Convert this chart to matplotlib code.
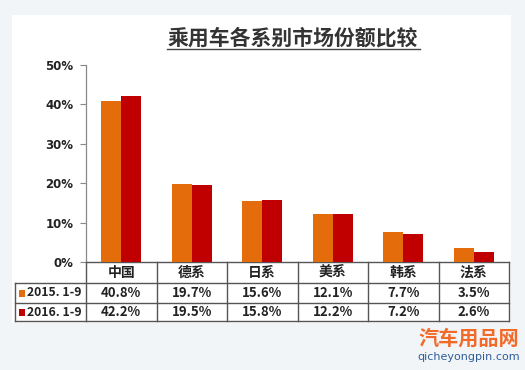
import matplotlib
matplotlib.use("Agg")
import matplotlib.pyplot as plt
from matplotlib import transforms
from matplotlib.patches import Rectangle
from matplotlib.lines import Line2D

plt.rcParams['font.family'] = ['Noto Sans CJK SC', 'DejaVu Sans']

title = "乘用车各系别市场份额比较"
categories = ["中国", "德系", "日系", "美系", "韩系", "法系"]
series_names = ["2015. 1-9", "2016. 1-9"]
values_2015 = [40.8, 19.7, 15.6, 12.1, 7.7, 3.5]
values_2016 = [42.2, 19.5, 15.8, 12.2, 7.2, 2.6]
yticks = [0, 10, 20, 30, 40, 50]
colors = ["#E46C0A", "#C00000"]

W, H = 525, 370
fig = plt.figure(figsize=(W / 100, H / 100), dpi=100)
fig.patch.set_facecolor("#F2F5F7")

def fy(y):
    return 1 - y / H

def fx(x):
    return x / W

# white panel
fig.patches.append(Rectangle((fx(12), fy(323)), fx(511) - fx(12), fy(15) - fy(323),
                             transform=fig.transFigure, facecolor="white",
                             edgecolor="none", zorder=-5))

ax_left, ax_right, ax_top, ax_bottom = 86, 509, 65, 262
ax = fig.add_axes([fx(ax_left), fy(ax_bottom), fx(ax_right) - fx(ax_left), fy(ax_top) - fy(ax_bottom)])
ax.set_facecolor("none")
ax.set_zorder(2)

n = len(categories)
xs = list(range(n))
bw = 0.285
ax.bar([x - bw / 2 for x in xs], values_2015, width=bw, color=colors[0], zorder=3)
ax.bar([x + bw / 2 for x in xs], values_2016, width=bw, color=colors[1], zorder=3)
ax.set_xlim(-0.5, n - 0.5)
ax.set_ylim(0, 50)
ax.set_yticks(yticks)
ax.set_yticklabels([f"{t}%" for t in yticks], fontsize=8.5, fontweight="bold",
                   family=["DejaVu Sans"], color="#222222")
ax.tick_params(axis="y", direction="out", length=4, width=0.8, color="#888888", pad=5)
ax.tick_params(axis="x", length=0, labelbottom=False)
for s in ["top", "right"]:
    ax.spines[s].set_visible(False)
ax.spines["left"].set_color("#888888")
ax.spines["bottom"].set_color("#555555")
ax.spines["left"].set_linewidth(0.9)
ax.spines["bottom"].set_linewidth(1.0)

# title
fig.text(fx(293), fy(38), title, ha="center", va="center", fontsize=15,
         color="#333333", fontweight="bold")
fig.add_artist(Line2D([fx(167), fx(420)], [fy(48.5), fy(48.5)], transform=fig.transFigure,
                      color="#444444", lw=1.0))

# table
bt = transforms.blended_transform_factory(ax.transData, fig.transFigure)
row_y = [262, 283, 303, 321]
lc = "#555555"
lw = 1.0
for y in row_y[1:]:
    fig.add_artist(Line2D([fx(15), fx(ax_right)], [fy(y), fy(y)], transform=fig.transFigure, color=lc, lw=lw))
fig.add_artist(Line2D([fx(15), fx(15)], [fy(row_y[1]), fy(row_y[3])], transform=fig.transFigure, color=lc, lw=lw))
for i in range(n + 1):
    xb = i - 0.5
    fig.add_artist(Line2D([xb, xb], [fy(row_y[0]), fy(row_y[3])], transform=bt, color=lc, lw=lw))

for i, c in enumerate(categories):
    fig.text(i, fy((row_y[0] + row_y[1]) / 2), c, transform=bt, ha="center", va="center",
             fontsize=10, fontweight="bold", color="#222222")
for r, vals in enumerate([values_2015, values_2016]):
    yc = fy((row_y[r + 1] + row_y[r + 2]) / 2)
    for i, v in enumerate(vals):
        fig.text(i, yc, f"{v:.1f}%", transform=bt, ha="center", va="center",
                 fontsize=9.5, fontweight="bold", color="#222222")
    fig.patches.append(Rectangle((fx(18.5), yc - 3.5 / H), 6 / W, 7 / H, transform=fig.transFigure,
                                 facecolor=colors[r], edgecolor="none"))
    fig.text(fx(27), yc, series_names[r], ha="left", va="center", fontsize=8.8,
             fontweight="bold", color="#222222")

# watermark
fig.text(fx(469), fy(338), "汽车用品网", ha="center", va="center", fontsize=14.5,
         fontweight="bold", color="#F26A2A")
fig.text(fx(469), fy(357), "qicheyongpin.com", ha="center", va="center", fontsize=8,
         color="#2E5C9A", family=["DejaVu Sans"])

fig.savefig("out.png", dpi=100, facecolor=fig.get_facecolor())
